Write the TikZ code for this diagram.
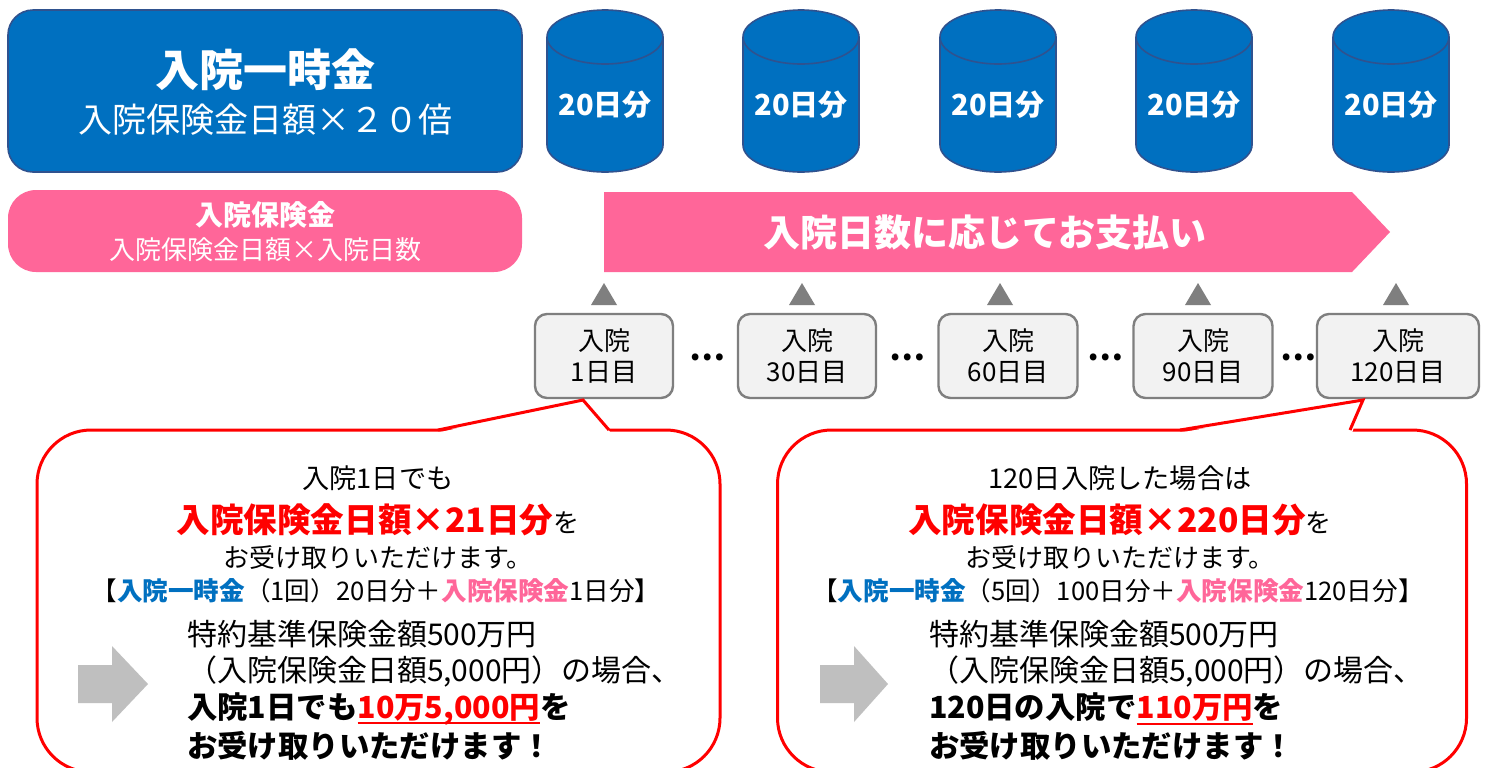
\documentclass[tikz,border=0pt]{standalone}
\usepackage{fontspec}
\setmainfont{Noto Sans CJK JP}
\definecolor{ablue}{HTML}{0070C0}
\definecolor{dblue}{HTML}{2F528F}
\definecolor{apink}{HTML}{FF6699}
\definecolor{agray}{HTML}{7F7F7F}
\definecolor{lgray}{HTML}{F2F2F2}
\definecolor{mgray}{HTML}{BFBFBF}
\definecolor{ared}{HTML}{FF0000}
\newcommand\fz[1]{\fontsize{#1pt}{#1pt}\selectfont}
\newcommand\myul[1]{\textcolor{ared}{\setbox0\hbox{#1}\rlap{\rule[-3pt]{\wd0}{1pt}}\box0}}
\begin{document}
\begin{tikzpicture}[x=0.5pt,y=-0.5pt,
  txt/.style={inner sep=0pt, outer sep=0pt},
  bluebox/.style={draw=dblue, line width=0.8pt, fill=ablue, rounded corners=12.5pt, inner sep=0pt},
  pinkbox/.style={fill=apink, rounded corners=14pt, inner sep=0pt},
  cylbody/.style={draw=dblue, line width=0.8pt, fill=ablue},
  cylline/.style={draw=dblue, line width=0.8pt},
  cyltext/.style={txt, text=white, font=\fz{14.5}\bfseries},
  daybox/.style={draw=agray, line width=1.2pt, fill=lgray, rounded corners=6pt, inner sep=0pt, minimum height=42pt, align=center, font=\fontsize{13pt}{15.5pt}\selectfont},
  tri/.style={fill=agray},
  dots/.style={txt, font=\fz{16}\bfseries},
  calloutbox/.style={draw=ared, line width=1.5pt, fill=white, rounded corners=27pt, inner sep=0pt},
  pointer/.style={draw=ared, line width=1.5pt, line join=miter},
  grayarrow/.style={fill=mgray},
  line/.style={txt, font=\fz{13}},
  firstline/.style={txt, font=\fz{13.6}},
  bracketline/.style={txt, font=\fz{12.8}},
  lowline/.style={txt, anchor=west, font=\fz{15}},
  boldline/.style={txt, anchor=west, font=\fz{15.2}\bfseries}
]
\useasboundingbox (0,0) rectangle (1486,767);
\fill[white] (0,0) rectangle (1486,767);

% top-left blue box
\node[bluebox, minimum width=257pt, minimum height=81pt] (ichiji) at (265,91) {};
\node[txt, text=white, font=\fz{22}\bfseries] (ichijiT) at (265,70) {入院一時金};
\node[txt, text=white, font=\fz{17}] (ichijiS) at (265,120) {入院保険金日額×２０倍};

% cylinders
\foreach \cx/\nm in {605/c1,801/c2,998/c3,1194/c4,1391/c5} {
  \path[cylbody] (\cx-58,37) -- (\cx-58,145)
     arc[start angle=180,end angle=0,x radius=58,y radius=27]
     -- (\cx+58,37)
     arc[start angle=0,end angle=-180,x radius=58,y radius=27] -- cycle;
  \draw[cylline] (\cx-58,37) arc[start angle=180,end angle=0,x radius=58,y radius=27];
  \node[cyltext] (\nm) at (\cx,105) {20日分};
}

% pink box
\node[pinkbox, minimum width=257pt, minimum height=41pt] (hoken) at (265,231) {};
\node[txt, text=white, font=\fz{14}\bfseries] (hokenT) at (265,215) {入院保険金};
\node[txt, text=white, font=\fz{13}] (hokenS) at (265,250) {入院保険金日額×入院日数};

% pink arrow
\fill[apink] (604,192) -- (1352,192) -- (1390,232) -- (1352,272) -- (604,272) -- cycle;
\node[txt, text=white, font=\fz{18.5}\bfseries] (pay) at (985,232) {入院日数に応じてお支払い};

% triangles
\foreach \x in {604,802,1000,1198,1396} {
  \path[tri] (\x-13,305) -- (\x,283) -- (\x+13,305) -- cycle;
}

% day boxes
\node[daybox, minimum width=69pt] (d1) at (604,356) {入院\\1日目};
\node[daybox, minimum width=69pt] (d2) at (807,356) {入院\\30日目};
\node[daybox, minimum width=69.5pt] (d3) at (1008,356) {入院\\60日目};
\node[daybox, minimum width=69.5pt] (d4) at (1203,356) {入院\\90日目};
\node[daybox, minimum width=81pt] (d5) at (1398,356) {入院\\120日目};
\node[dots] (e1) at (707,357) {…};
\node[dots] (e2) at (907,357) {…};
\node[dots] (e3) at (1105,357) {…};
\node[dots] (e4) at (1298,357) {…};

% left callout
\node[calloutbox, minimum width=341.5pt, minimum height=171pt] (cl) at (378.5,601) {};
\coordinate (tipL) at (583,400);
\fill[white] (436,433) -- (tipL) -- (611,433) -- cycle;
\draw[pointer] (438,430) -- (tipL) -- (609,430);
\node[firstline] (l1) at (378,478) {入院1日でも};
\node[line] (l2) at (378,520) {{\fz{16.8}\bfseries\textcolor{ared}{入院保険金日額×21日分}}を};
\node[line] (l3) at (378,558) {お受け取りいただけます。};
\node[bracketline] (l4) at (376,591) {【\textcolor{ablue}{\bfseries 入院一時金}（1回）20日分＋\textcolor{apink}{\bfseries 入院保険金}1日分】};
\path[grayarrow] (78,665) -- (112,665) -- (112,646) -- (148,684) -- (112,722) -- (112,703) -- (78,703) -- cycle;
\node[lowline] (l5) at (187,634) {特約基準保険金額500万円};
\node[lowline] (l6) at (187,671) {（入院保険金日額5,000円）の場合、};
\node[boldline] (l7) at (187,709) {入院1日でも\myul{10万5,000円}を};
\node[boldline] (l8) at (187,746) {お受け取りいただけます！};

% right callout
\node[calloutbox, minimum width=344.5pt, minimum height=171pt] (cr) at (1122,601) {};
\coordinate (tipR) at (1363,400);
\fill[white] (1178,433) -- (tipR) -- (1352,433) -- cycle;
\draw[pointer] (1180,430) -- (tipR) -- (1350,430);
\node[firstline] (r1) at (1120,478) {120日入院した場合は};
\node[line] (r2) at (1120,520) {{\fz{16.8}\bfseries\textcolor{ared}{入院保険金日額×220日分}}を};
\node[line] (r3) at (1120,558) {お受け取りいただけます。};
\node[bracketline] (r4) at (1118,591) {【\textcolor{ablue}{\bfseries 入院一時金}（5回）100日分＋\textcolor{apink}{\bfseries 入院保険金}120日分】};
\path[grayarrow] (820,665) -- (854,665) -- (854,646) -- (888,684) -- (854,722) -- (854,703) -- (820,703) -- cycle;
\node[lowline] (r5) at (929,634) {特約基準保険金額500万円};
\node[lowline] (r6) at (929,671) {（入院保険金日額5,000円）の場合、};
\node[boldline] (r7) at (929,709) {120日の入院で\myul{110万円}を};
\node[boldline] (r8) at (929,746) {お受け取りいただけます！};
\end{tikzpicture}
\end{document}
